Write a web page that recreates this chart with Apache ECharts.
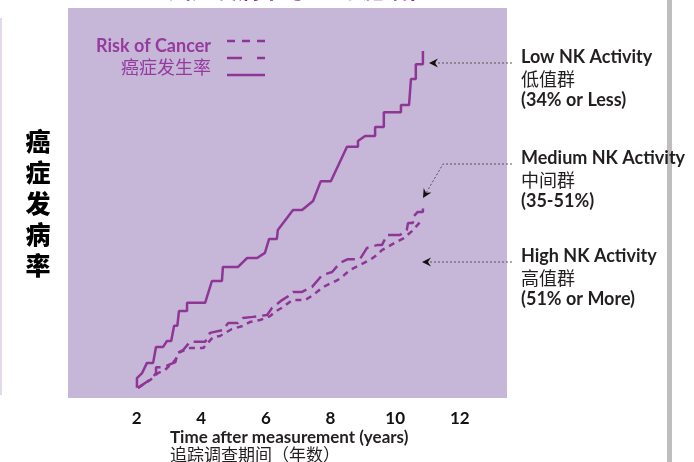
<!DOCTYPE html>
<html>
<head>
<meta charset="utf-8">
<script src="https://cdn.jsdelivr.net/npm/echarts@6/dist/echarts.min.js"></script>
<style>
html,body{margin:0;padding:0;background:#fff;}
#c{width:694px;height:462px;}
</style>
</head>
<body>
<div id="c"></div>
<script>
// ---- data (years, cumulative risk in arbitrary % units) ----
const xTickLabels = [2, 4, 6, 8, 10, 12];
const lowNK = [
  [2.01,2.6],[2.01,5.1],[2.17,6.4],[2.32,9.0],[2.51,9.0],[2.60,13.1],[2.82,13.1],[2.94,14.6],[3.07,14.6],
  [3.16,18.5],[3.26,18.5],[3.31,22.3],[3.56,22.3],[3.56,24.4],[4.12,24.4],[4.33,30.0],[4.64,30.0],
  [4.67,33.6],[5.14,33.6],[5.42,35.9],[5.73,35.9],[5.97,37.2],[6.10,40.8],[6.34,40.8],[6.37,43.1],
  [6.84,48.2],[7.12,48.2],[7.46,50.5],[7.70,55.6],[8.01,55.6],[8.51,64.4],[8.85,64.4],[8.85,65.9],
  [9.07,67.2],[9.38,67.2],[9.38,69.5],[9.65,69.5],[9.65,73.3],[10.18,73.3],[10.18,75.1],[10.43,75.1],
  [10.49,81.8],[10.64,81.8],[10.64,85.6],[10.86,85.6],[10.86,89.0]
];
const mediumNK = [
  [2.04,2.6],[2.48,5.1],[2.60,6.4],[2.60,7.9],[2.82,7.9],[3.20,9.2],[3.26,11.5],[3.44,12.3],[3.65,14.4],
  [4.12,14.4],[4.27,16.7],[4.67,17.4],[4.83,19.2],[5.14,19.2],[5.29,20.5],[5.60,20.8],[6.04,21.3],
  [6.19,23.1],[6.50,25.1],[6.75,26.4],[6.84,27.2],[7.12,27.2],[7.43,28.5],[7.74,31.5],[8.05,32.3],
  [8.29,34.6],[8.54,35.6],[8.91,35.6],[9.13,38.5],[9.44,39.2],[9.59,39.2],[9.75,41.8],[10.15,41.8],
  [10.36,43.1],[10.40,44.9],[10.55,44.9],[10.55,46.4],[10.70,47.7],[10.86,47.7],[10.86,49.0]
];
const highNK = [
  [2.04,2.6],[2.42,4.6],[2.66,6.4],[2.88,7.2],[3.19,9.7],[3.34,11.8],[3.65,12.8],[4.06,12.8],[4.36,15.6],
  [4.58,15.9],[4.95,17.7],[5.29,18.5],[5.51,19.5],[5.82,20.0],[6.13,21.0],[6.28,22.1],[6.53,23.3],
  [6.81,25.1],[7.21,25.1],[7.43,26.2],[7.61,27.4],[7.83,28.7],[8.23,30.3],[8.42,31.5],[8.60,32.8],
  [8.91,34.1],[9.22,35.4],[9.44,36.7],[9.59,37.9],[9.93,39.5],[10.27,41.0],[10.52,42.8],[10.77,45.1]
];
const groupNames = ['Low NK Activity', 'Medium NK Activity', 'High NK Activity'];
const groupNamesCN = ['低值群', '中间群', '高值群'];
const groupRanges = ['(34% or Less)', '(35-51%)', '(51% or More)'];
const titleText = '癌症发病率与NK细胞活性';
const yTitle = '癌症发病率';
const xTitleEN = 'Time after measurement (years)';
const xTitleCN = '追踪调查期间（年数）';
const legendEN = 'Risk of Cancer';
const legendCN = '癌症发生率';

const PURPLE = '#8E3596';
const TEXTP = '#963B9E';
const DARK = '#231F20';

function arrowHead(tip, from) {
  const dx = from[0] - tip[0], dy = from[1] - tip[1];
  const L = Math.sqrt(dx*dx + dy*dy);
  const ux = dx / L, uy = dy / L, px = -uy, py = ux;
  const len = 9, w = 4.5, back = 6;
  return [
    tip,
    [tip[0] + ux*len + px*w, tip[1] + uy*len + py*w],
    [tip[0] + ux*back, tip[1] + uy*back],
    [tip[0] + ux*len - px*w, tip[1] + uy*len - py*w]
  ];
}

const chart = echarts.init(document.getElementById('c'), null, {renderer: 'canvas'});

const graphics = [];
// plot background
graphics.push({type:'rect', shape:{x:68, y:8, width:439, height:390}, style:{fill:'#C6B7D8'}, z:-10, silent:true});
// left thin frame line and right gray bar
graphics.push({type:'line', shape:{x1:1, y1:18, x2:1, y2:395}, style:{stroke:'#D8CCE6', lineWidth:1.5}, z:-10});
graphics.push({type:'rect', shape:{x:667, y:0, width:5, height:462}, style:{fill:'#BEBEBE'}, z:-10});
// top title (mostly cut off)
graphics.push({type:'text', x:168, y:1, style:{text:titleText, font:'bold 23px "Noto Sans CJK SC"', fill:'#7A2E9E', textVerticalAlign:'bottom', textAlign:'left'}});
// y title
graphics.push({type:'text', x:38, y:203, style:{text:yTitle.split('').join('\n'), font:'900 25px "Noto Sans CJK SC"', lineHeight:31, fill:'#000', textAlign:'center', textVerticalAlign:'middle'}});
// x titles
graphics.push({type:'text', x:170, y:438, style:{text:xTitleEN, font:'bold 17px Lato', fill:DARK, textVerticalAlign:'middle'}});
graphics.push({type:'text', x:170, y:455, style:{text:xTitleCN, font:'17px "Noto Sans CJK SC"', fill:DARK, textVerticalAlign:'middle'}});
// legend
graphics.push({type:'text', x:211, y:46, style:{text:legendEN, font:'bold 18px Lato', fill:TEXTP, textAlign:'right', textVerticalAlign:'middle'}});
graphics.push({type:'text', x:211, y:67, style:{text:legendCN, font:'18px "Noto Sans CJK SC"', fill:TEXTP, textAlign:'right', textVerticalAlign:'middle'}});
graphics.push({type:'line', shape:{x1:227, y1:41, x2:265, y2:41}, style:{stroke:PURPLE, lineWidth:2.5, lineDash:[8,7]}});
graphics.push({type:'line', shape:{x1:227, y1:58, x2:265, y2:58}, style:{stroke:PURPLE, lineWidth:2.5, lineDash:[15,15,8,0]}});
graphics.push({type:'line', shape:{x1:227, y1:75, x2:265, y2:75}, style:{stroke:PURPLE, lineWidth:2.5}});
// right annotations
const annY = [57, 158, 256];
for (let i = 0; i < 3; i++) {
  graphics.push({type:'text', x:521, y:annY[i], style:{text:groupNames[i], font:'bold 18px Lato', fill:DARK, textVerticalAlign:'middle'}});
  graphics.push({type:'text', x:521, y:annY[i]+22, style:{text:groupNamesCN[i], font:'18px "Noto Sans CJK SC"', fill:DARK, textVerticalAlign:'middle'}});
  graphics.push({type:'text', x:521, y:annY[i]+43, style:{text:groupRanges[i], font:'bold 18px Lato', fill:DARK, textVerticalAlign:'middle'}});
}
// arrows
const arrows = [
  {pts:[[512,63],[431,63]], tip:[429,63]},
  {pts:[[512,164],[443,164],[425,195]], tip:[423,198]},
  {pts:[[512,262],[424,262]], tip:[422,262]}
];
arrows.forEach(a => {
  graphics.push({type:'polyline', shape:{points:a.pts}, style:{stroke:'#555', lineWidth:1, lineDash:[2,2], fill:null}});
  const from = a.pts[a.pts.length-2];
  graphics.push({type:'polygon', shape:{points:arrowHead(a.tip, from)}, style:{fill:'#111'}});
});

const option = {
  animation: false,
  backgroundColor: '#fff',
  grid: {left:72, right:189, top:8, bottom:64, containLabel:false},
  xAxis: {
    type:'value', min:0, max:13.4, interval:2,
    axisLine:{show:false}, axisTick:{show:false}, splitLine:{show:false},
    axisLabel:{
      margin:12, color:'#111', fontFamily:'Lato', fontWeight:'bold', fontSize:17,
      showMaxLabel:false, showMinLabel:false,
      formatter: v => (xTickLabels.indexOf(v) >= 0 ? String(v) : '')
    }
  },
  yAxis: {type:'value', min:0, max:100, show:false},
  series: [
    {name:'Low', type:'line', data:lowNK, symbol:'none', lineStyle:{color:PURPLE, width:2.5}, z:3},
    {name:'Medium', type:'line', data:mediumNK, symbol:'none', lineStyle:{color:PURPLE, width:2.5, type:[14,6]}, z:3},
    {name:'High', type:'line', data:highNK, symbol:'none', lineStyle:{color:PURPLE, width:2.5, type:[6,5]}, z:3}
  ],
  graphic: graphics
};
chart.setOption(option);
</script>
</body>
</html>
